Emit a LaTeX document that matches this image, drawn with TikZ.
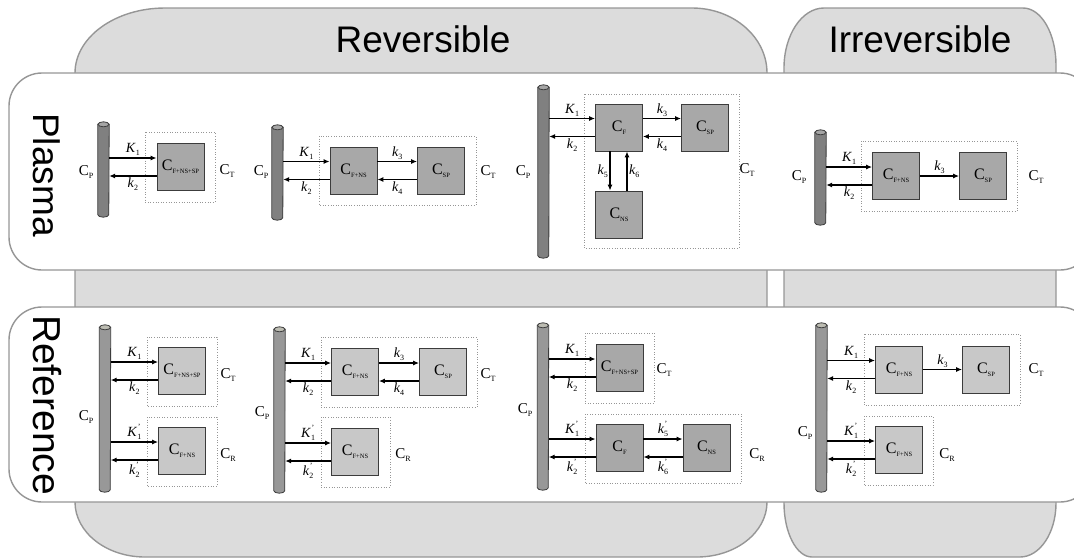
\documentclass[tikz,border=0pt]{standalone}
\usepackage{fontspec}
\setmainfont{Liberation Serif}
\newfontfamily\headfont{Liberation Sans}
\usetikzlibrary{arrows.meta,positioning}
\definecolor{bgfill}{RGB}{220,220,220}
\definecolor{bgline}{RGB}{150,150,150}
\definecolor{cylbody}{RGB}{128,128,128}
\definecolor{cyltop}{RGB}{165,165,165}
\definecolor{refbody}{RGB}{152,152,152}
\definecolor{reftop}{RGB}{188,188,178}
\definecolor{boxdark}{RGB}{168,168,168}
\definecolor{boxlight}{RGB}{200,200,200}
\definecolor{boxline}{RGB}{60,60,60}
\newcommand{\conc}[2][8]{C\raisebox{-0.45ex}{\fontsize{#1}{#1}\selectfont #2}}
\newcommand{\rk}[3][]{\textit{#2}\rlap{\raisebox{1.1ex}{\fontsize{8}{8}\selectfont\hspace{0.5pt}#1}}\raisebox{-0.5ex}{\fontsize{8}{8}\selectfont #3}}
\newcommand{\tube}[3]{%
  \filldraw[fill=#2, draw=boxline, line width=0.8pt] ([yshift=-2.5pt]#1.north west) -- ([yshift=2.5pt]#1.south west) arc[start angle=180, end angle=0, x radius=5.5, y radius=2.5] -- ([yshift=-2.5pt]#1.north east) -- cycle;
  \filldraw[fill=#3, draw=boxline, line width=0.8pt] ([yshift=-2.5pt]#1.north) ellipse [x radius=5.5, y radius=2.5];}
\tikzset{
  panel/.style={fill=bgfill, draw=bgline, line width=1.4pt},
  row/.style={fill=white, draw=bgline, line width=1.4pt, rounded corners=33pt},
  cyl/.style={rectangle, minimum width=11pt, inner sep=0pt},
  comp/.style={draw=boxline, fill=boxdark, line width=0.9pt, minimum size=47pt, inner sep=0pt, font=\fontsize{16}{16}\selectfont},
  lcomp/.style={comp, fill=boxlight},
  grp/.style={draw=bgline, dotted, line width=0.6pt},
  lab/.style={font=\fontsize{15}{15}\selectfont, inner sep=0pt},
  flow/.style={-{Latex[length=6pt,width=5pt]}, line width=1.1pt},
  rate/.style={font=\fontsize{14}{14}\selectfont, inner sep=1.5pt},
  head/.style={font=\headfont\fontsize{37}{37}\selectfont, inner sep=0pt}
}
\begin{document}
\begin{tikzpicture}[x=1pt, y=-1pt]
\useasboundingbox (0,0) rectangle (1074,558);
\clip (0,0) rectangle (1074,558);
\path[panel] (75,502) -- (75,73) arc[start angle=180, end angle=270, x radius=90, y radius=65] -- (692,8) arc[start angle=270, end angle=360, x radius=75, y radius=65] -- (767,502) arc[start angle=0, end angle=90, x radius=70, y radius=55] -- (145,557) arc[start angle=90, end angle=180, x radius=70, y radius=55] -- cycle;
\path[panel] (784,503) -- (784,68) arc[start angle=180, end angle=270, x radius=40, y radius=60] -- (1023,8) arc[start angle=270, end angle=360, x radius=33, y radius=57] -- (1056,503) arc[start angle=0, end angle=90, x radius=36, y radius=54] -- (812,557) arc[start angle=90, end angle=180, x radius=28, y radius=54] -- cycle;
\node[head, anchor=base] (trev) at (423,52) {Reversible};
\node[head, anchor=base] (tirr) at (920,52) {Irreversible};
\draw[row] (9,73) rectangle (1093,270);
\draw[row] (9,307) rectangle (1093,502);
\node[head, rotate=-90, anchor=base] (tpla) at (33,175) {Plasma};
\node[head, rotate=-90, anchor=base, font=\headfont\fontsize{39}{39}\selectfont] (tref) at (33,405) {Reference};

\node[cyl, minimum height=95pt] (cpA) at (103.5,169.5) {};
\tube{cpA}{cylbody}{cyltop}
\draw[grp] (145,132) rectangle (215,202);
\node[comp] (bA) at (180.5,167) {\conc[6.5]{F+NS+SP}};
\node[lab] (pA) at (86,172) {\conc{P}};
\node[lab] (tA) at (227,171) {\conc{T}};
\draw[flow] ([yshift=9pt]bA.west -| cpA.east) -- node[rate,above]{\rk{K}{1}} ([yshift=9pt]bA.west);
\draw[flow] ([yshift=-9pt]bA.west) -- node[rate,below]{\rk{k}{2}} ([yshift=-9pt]bA.west -| cpA.east);

\node[cyl, minimum height=95pt] (cpB) at (277.5,172.5) {};
\tube{cpB}{cylbody}{cyltop}
\draw[grp] (319,136) rectangle (476,205);
\node[comp] (bB1) at (353.5,170.5) {\conc[6.5]{F+NS}};
\node[comp] (bB2) at (441,170.5) {\conc[6.5]{SP}};
\node[lab] (pB) at (261,172) {\conc{P}};
\node[lab] (tB) at (488,172) {\conc{T}};
\draw[flow] ([yshift=9pt]bB1.west -| cpB.east) -- node[rate,above]{\rk{K}{1}} ([yshift=9pt]bB1.west);
\draw[flow] ([yshift=-9pt]bB1.west) -- node[rate,below]{\rk{k}{2}} ([yshift=-9pt]bB1.west -| cpB.east);
\draw[flow] ([yshift=9pt]bB1.east) -- node[rate,above]{\rk{k}{3}} ([yshift=9pt]bB2.west);
\draw[flow] ([yshift=-9pt]bB2.west) -- node[rate,below]{\rk{k}{4}} ([yshift=-9pt]bB1.east);

\node[cyl, minimum height=173pt] (cpC) at (543.5,171.5) {};
\tube{cpC}{cylbody}{cyltop}
\draw[grp] (584,94) rectangle (739,248);
\node[comp] (bC1) at (619,127.5) {\conc[6.5]{F}};
\node[comp] (bC2) at (705,127.5) {\conc[6.5]{SP}};
\node[comp] (bC3) at (619,214.5) {\conc[6.5]{NS}};
\node[lab] (pC) at (523,172) {\conc{P}};
\node[lab] (tC) at (747,170) {\conc{T}};
\draw[flow] ([yshift=9pt]bC1.west -| cpC.east) -- node[rate,above]{\rk{K}{1}} ([yshift=9pt]bC1.west);
\draw[flow] ([yshift=-9pt]bC1.west) -- node[rate,below]{\rk{k}{2}} ([yshift=-9pt]bC1.west -| cpC.east);
\draw[flow] ([yshift=9pt]bC1.east) -- node[rate,above]{\rk{k}{3}} ([yshift=9pt]bC2.west);
\draw[flow] ([yshift=-9pt]bC2.west) -- node[rate,below]{\rk{k}{4}} ([yshift=-9pt]bC1.east);
\draw[flow] ([xshift=-9pt]bC1.south) -- node[rate,left]{\rk{k}{5}} ([xshift=-9pt]bC1.south |- bC3.north);
\draw[flow] ([xshift=8pt]bC3.north) -- node[rate,right]{\rk{k}{6}} ([xshift=8pt]bC3.north |- bC1.south);

\node[cyl, minimum height=95pt] (cpD) at (820.5,177.5) {};
\tube{cpD}{cylbody}{cyltop}
\draw[grp] (861,141) rectangle (1017,211);
\node[comp] (bD1) at (896,176) {\conc[6.5]{F+NS}};
\node[comp] (bD2) at (983,176) {\conc[6.5]{SP}};
\node[lab] (pD) at (799,177) {\conc{P}};
\node[lab] (tD) at (1036,177) {\conc{T}};
\draw[flow] ([yshift=9pt]bD1.west -| cpD.east) -- node[rate,above]{\rk{K}{1}} ([yshift=9pt]bD1.west);
\draw[flow] ([yshift=-9pt]bD1.west) -- node[rate,below]{\rk{k}{2}} ([yshift=-9pt]bD1.west -| cpD.east);
\draw[flow] (bD1.east) -- node[rate,above]{\rk{k}{3}} (bD2.west);

\node[cyl, minimum height=167pt] (cpE) at (105,408.5) {};
\tube{cpE}{refbody}{reftop}
\draw[grp] (147,337) rectangle (217,406);
\draw[grp] (147,417) rectangle (217,486);
\node[lcomp] (bE1) at (182,371) {\conc[6.5]{F+NS+SP}};
\node[lcomp] (bE2) at (182,451) {\conc[6.5]{F+NS}};
\node[lab] (pE) at (86,417) {\conc{P}};
\node[lab] (tE) at (228,375) {\conc{T}};
\node[lab] (rE) at (228,455) {\conc{R}};
\draw[flow] ([yshift=9pt]bE1.west -| cpE.east) -- node[rate,above]{\rk{K}{1}} ([yshift=9pt]bE1.west);
\draw[flow] ([yshift=-9pt]bE1.west) -- node[rate,below]{\rk{k}{2}} ([yshift=-9pt]bE1.west -| cpE.east);
\draw[flow] ([yshift=9pt]bE2.west -| cpE.east) -- node[rate,above]{\rk[']{K}{1}} ([yshift=9pt]bE2.west);
\draw[flow] ([yshift=-9pt]bE2.west) -- node[rate,below]{\rk[']{k}{2}} ([yshift=-9pt]bE2.west -| cpE.east);

\node[cyl, minimum height=166pt] (cpF) at (279.5,410) {};
\tube{cpF}{refbody}{reftop}
\draw[grp] (321,337) rectangle (477,407);
\draw[grp] (321,417) rectangle (390,487);
\node[lcomp] (bF1) at (355,372) {\conc[6.5]{F+NS}};
\node[lcomp] (bF2) at (443,372) {\conc[6.5]{SP}};
\node[lcomp] (bF3) at (355,452) {\conc[6.5]{F+NS}};
\node[lab] (pF) at (262,413) {\conc{P}};
\node[lab] (tF) at (488,375) {\conc{T}};
\node[lab] (rF) at (403,455) {\conc{R}};
\draw[flow] ([yshift=9pt]bF1.west -| cpF.east) -- node[rate,above]{\rk{K}{1}} ([yshift=9pt]bF1.west);
\draw[flow] ([yshift=-9pt]bF1.west) -- node[rate,below]{\rk{k}{2}} ([yshift=-9pt]bF1.west -| cpF.east);
\draw[flow] ([yshift=9pt]bF1.east) -- node[rate,above]{\rk{k}{3}} ([yshift=9pt]bF2.west);
\draw[flow] ([yshift=-9pt]bF2.west) -- node[rate,below]{\rk{k}{4}} ([yshift=-9pt]bF1.east);
\draw[flow] ([yshift=9pt]bF3.west -| cpF.east) -- node[rate,above]{\rk[']{K}{1}} ([yshift=9pt]bF3.west);
\draw[flow] ([yshift=-9pt]bF3.west) -- node[rate,below]{\rk[']{k}{2}} ([yshift=-9pt]bF3.west -| cpF.east);

\node[cyl, minimum height=167pt] (cpG) at (543,406.5) {};
\tube{cpG}{refbody}{reftop}
\draw[grp] (585,333) rectangle (654,403);
\draw[grp] (585,414) rectangle (741,483);
\node[comp] (bG1) at (619.5,368) {\conc[6.5]{F+NS+SP}};
\node[comp] (bG2) at (619.5,448) {\conc[6.5]{F}};
\node[comp] (bG3) at (706.5,448) {\conc[6.5]{NS}};
\node[lab] (pG) at (525,410) {\conc{P}};
\node[lab] (tG) at (664,370) {\conc{T}};
\node[lab] (rG) at (757,455) {\conc{R}};
\draw[flow] ([yshift=9pt]bG1.west -| cpG.east) -- node[rate,above]{\rk{K}{1}} ([yshift=9pt]bG1.west);
\draw[flow] ([yshift=-9pt]bG1.west) -- node[rate,below]{\rk{k}{2}} ([yshift=-9pt]bG1.west -| cpG.east);
\draw[flow] ([yshift=9pt]bG2.west -| cpG.east) -- node[rate,above]{\rk[']{K}{1}} ([yshift=9pt]bG2.west);
\draw[flow] ([yshift=-9pt]bG2.west) -- node[rate,below]{\rk[']{k}{2}} ([yshift=-9pt]bG2.west -| cpG.east);
\draw[flow] ([yshift=9pt]bG2.east) -- node[rate,above]{\rk[']{k}{5}} ([yshift=9pt]bG3.west);
\draw[flow] ([yshift=-9pt]bG3.west) -- node[rate,below]{\rk[']{k}{6}} ([yshift=-9pt]bG2.east);

\node[cyl, minimum height=169pt] (cpH) at (821.5,407.5) {};
\tube{cpH}{refbody}{reftop}
\draw[grp] (864,334) rectangle (1020,405);
\draw[grp] (864,416) rectangle (933,485);
\node[lcomp] (bH1) at (899,369.5) {\conc[6.5]{F+NS}};
\node[lcomp] (bH2) at (986,369.5) {\conc[6.5]{SP}};
\node[lcomp] (bH3) at (899,450) {\conc[6.5]{F+NS}};
\node[lab] (pH) at (805,433) {\conc{P}};
\node[lab] (tH) at (1036,370) {\conc{T}};
\node[lab] (rH) at (947,455) {\conc{R}};
\draw[flow] ([yshift=9pt]bH1.west -| cpH.east) -- node[rate,above]{\rk{K}{1}} ([yshift=9pt]bH1.west);
\draw[flow] ([yshift=-9pt]bH1.west) -- node[rate,below]{\rk{k}{2}} ([yshift=-9pt]bH1.west -| cpH.east);
\draw[flow] (bH1.east) -- node[rate,above]{\rk{k}{3}} (bH2.west);
\draw[flow] ([yshift=9pt]bH3.west -| cpH.east) -- node[rate,above]{\rk[']{K}{1}} ([yshift=9pt]bH3.west);
\draw[flow] ([yshift=-9pt]bH3.west) -- node[rate,below]{\rk[']{k}{2}} ([yshift=-9pt]bH3.west -| cpH.east);
\end{tikzpicture}
\end{document}
